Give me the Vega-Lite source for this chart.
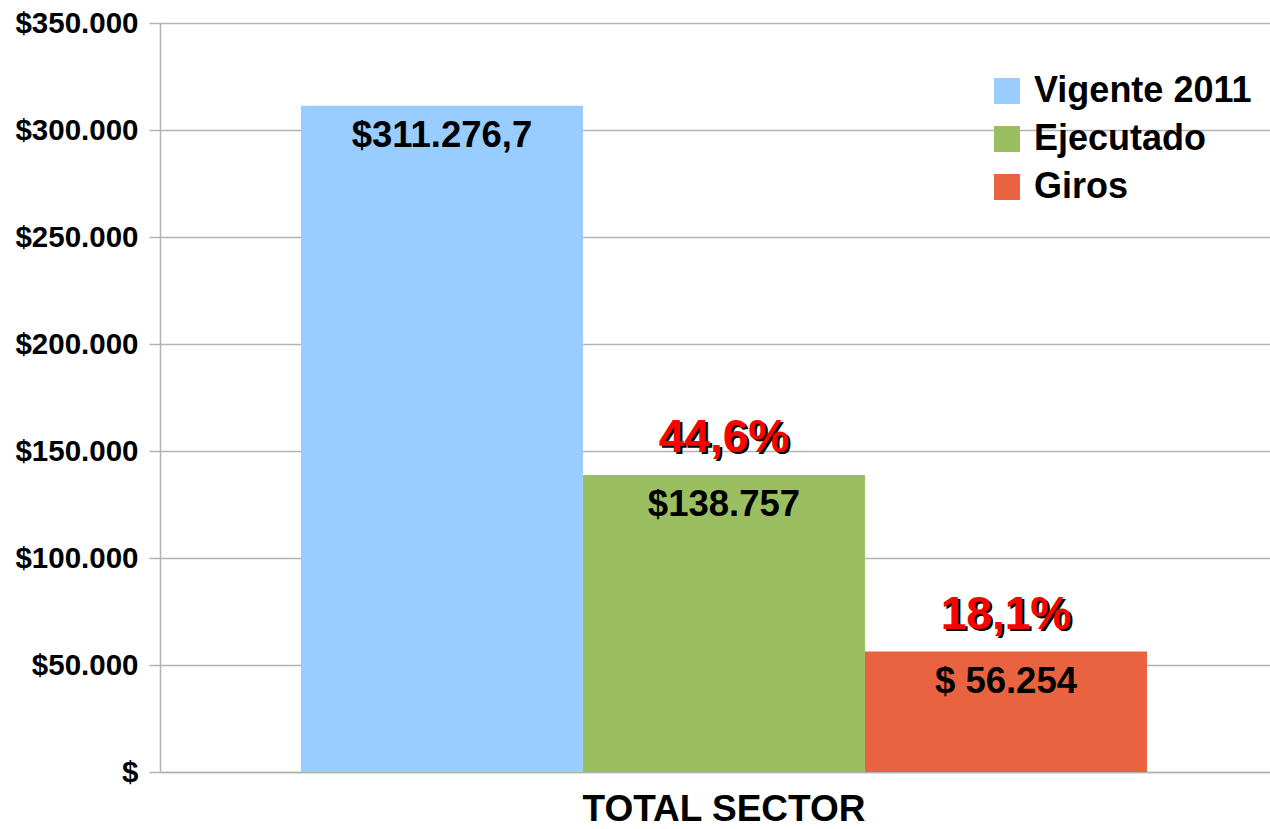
{
  "$schema": "https://vega.github.io/schema/vega-lite/v6.json",
  "width": 1110,
  "height": 749,
  "autosize": {"type": "none"},
  "padding": {"left": 160, "top": 23, "right": 0, "bottom": 57},
  "background": "white",
  "data": {
    "values": [
      {"sector": "TOTAL SECTOR", "serie": "Vigente 2011", "valor": 311276.7, "etiqueta": "$311.276,7", "pct": ""},
      {"sector": "TOTAL SECTOR", "serie": "Ejecutado", "valor": 138757, "etiqueta": "$138.757", "pct": "44,6%"},
      {"sector": "TOTAL SECTOR", "serie": "Giros", "valor": 56254, "etiqueta": "$ 56.254", "pct": "18,1%"}
    ]
  },
  "encoding": {
    "x": {
      "field": "sector", "type": "nominal",
      "scale": {"paddingInner": 0, "paddingOuter": 0.156, "align": 0.534},
      "axis": {"title": null, "labelAngle": 0, "ticks": false, "labelPadding": 19, "labelFontSize": 37, "labelLimit": 1000, "labelFont": "Liberation Sans", "labelFontWeight": "bold", "labelColor": "black", "domain": true, "domainColor": "#b3b3b3", "domainWidth": 1.5}
    },
    "xOffset": {
      "field": "serie", "type": "nominal",
      "sort": ["Vigente 2011", "Ejecutado", "Giros"],
      "scale": {"paddingInner": 0, "paddingOuter": 0}
    },
    "y": {
      "field": "valor", "type": "quantitative",
      "scale": {"domain": [0, 350000], "nice": false},
      "axis": {
        "title": null, "values": [0, 50000, 100000, 150000, 200000, 250000, 300000, 350000],
        "labelExpr": "datum.value == 0 ? '$' : '$' + replace(format(datum.value, ',.0f'), ',', '.')",
        "labelFontSize": 29.5, "labelFont": "Liberation Sans", "labelFontWeight": "bold", "labelColor": "black",
        "labelPadding": 11, "tickSize": 11, "tickColor": "#b3b3b3", "tickWidth": 1.5,
        "grid": true, "gridColor": "#b3b3b3", "gridWidth": 1.5,
        "domain": true, "domainColor": "#b3b3b3", "domainWidth": 1.5
      }
    }
  },
  "layer": [
    {
      "mark": {"type": "bar"},
      "encoding": {
        "color": {
          "field": "serie", "type": "nominal",
          "scale": {"domain": ["Vigente 2011", "Ejecutado", "Giros"], "range": ["#99CCFF", "#9BBF60", "#EA6340"]},
          "legend": {
            "title": null, "orient": "none", "legendX": 829, "legendY": 50,
            "padding": 0, "symbolType": "square", "symbolSize": 676, "symbolStrokeWidth": 0,
            "labelFontSize": 36, "labelFont": "Liberation Sans", "labelFontWeight": "bold", "labelColor": "black",
            "labelOffset": 9, "rowPadding": 12, "labelLimit": 400
          }
        }
      }
    },
    {
      "mark": {"type": "text", "baseline": "middle", "align": "center", "dy": 30, "fontSize": 36.5, "font": "Liberation Sans", "fontWeight": "bold", "color": "black"},
      "encoding": {"text": {"field": "etiqueta"}}
    },
    {
      "mark": {"type": "text", "baseline": "middle", "align": "center", "dy": -35, "dx": 2.5, "fontSize": 46, "font": "Liberation Sans", "fontWeight": "bold", "color": "black"},
      "encoding": {"text": {"field": "pct"}}
    },
    {
      "mark": {"type": "text", "baseline": "middle", "align": "center", "dy": -37, "fontSize": 46, "font": "Liberation Sans", "fontWeight": "bold", "color": "#FF0000"},
      "encoding": {"text": {"field": "pct"}}
    }
  ],
  "config": {"view": {"stroke": null}}
}
